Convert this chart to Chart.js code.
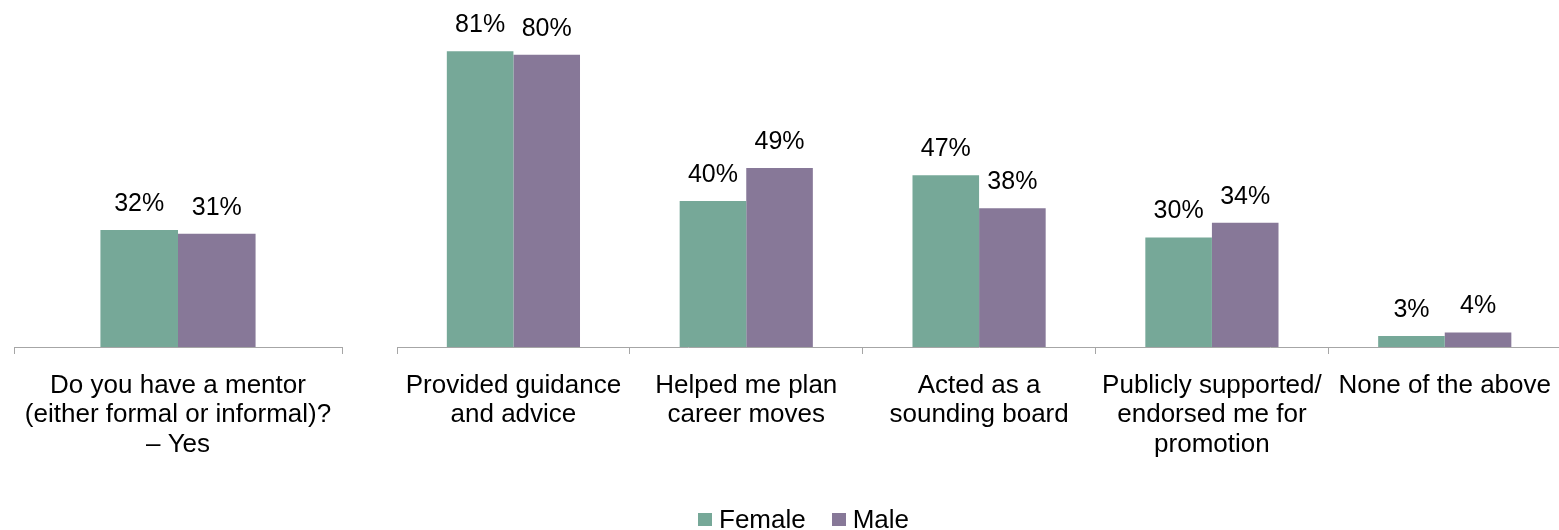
<!DOCTYPE html>
<html>
<head>
<meta charset="utf-8">
<script src="https://cdn.jsdelivr.net/npm/chart.js@4.4.1/dist/chart.umd.min.js"></script>
<style>
    html, body { margin: 0; padding: 0; background: #fff; }
    body { width: 1559px; height: 530px; position: relative; overflow: hidden; font-family: "Liberation Sans", Arial, sans-serif; }
    #mentorChart { position: absolute; left: 0; top: 0; }
    #roleChart { position: absolute; left: 380px; top: 0; }
    #legend { position: absolute; left: 698px; top: 504px; display: flex; align-items: center; font-size: 26px; color: #000; }
    #legend .item { display: flex; align-items: center; margin-right: 26px; }
    #legend .box { width: 14px; height: 13px; margin-right: 7px; }
</style>
</head>
<body>
<canvas id="mentorChart" width="390" height="530"></canvas>
<canvas id="roleChart" width="1188" height="530"></canvas>
<div id="legend"></div>

<script>
// 시리즈 정보
const seriesNames = ['Female', 'Male'];
const seriesColors = ['#76a898', '#877898'];

// 왼쪽: 멘토 유무
const mentorLabels = [['Do you have a mentor', '(either formal or informal)?', '\u2013 Yes']];
const mentorFemale = [32];
const mentorMale = [31];

// 오른쪽: 멘토의 역할
const roleLabels = [
    ['Provided guidance', 'and advice'],
    ['Helped me plan', 'career moves'],
    ['Acted as a', 'sounding board'],
    ['Publicly supported/', 'endorsed me for', 'promotion'],
    ['None of the above']
];
const roleFemale = [81, 40, 47, 30, 3];
const roleMale = [80, 49, 38, 34, 4];

const yMax = 95;
const axisGray = '#a6a6a6';

// 막대 위에 % 값 표시
const valueLabelPlugin = {
    id: 'valueLabels',
    afterDatasetsDraw(chart) {
        const ctx = chart.ctx;
        ctx.save();
        ctx.font = '25px "Liberation Sans", Arial, sans-serif';
        ctx.fillStyle = '#000';
        ctx.textAlign = 'center';
        ctx.textBaseline = 'alphabetic';
        chart.data.datasets.forEach((ds, i) => {
            const meta = chart.getDatasetMeta(i);
            meta.data.forEach((bar, j) => {
                ctx.fillText(ds.data[j] + '%', bar.x, bar.y - 19);
            });
        });
        ctx.restore();
    }
};

function buildChart(canvasId, labels, female, male, barFraction, padding) {
    const ctx = document.getElementById(canvasId).getContext('2d');
    return new Chart(ctx, {
        type: 'bar',
        data: {
            labels,
            datasets: [
                { label: seriesNames[0], data: female, backgroundColor: seriesColors[0] },
                { label: seriesNames[1], data: male, backgroundColor: seriesColors[1] }
            ]
        },
        options: {
            responsive: false,
            animation: false,
            devicePixelRatio: 1,
            layout: { padding },
            categoryPercentage: barFraction,
            barPercentage: 1,
            plugins: {
                legend: { display: false },
                tooltip: { enabled: false }
            },
            scales: {
                x: {
                    grid: {
                        offset: true,
                        drawOnChartArea: false,
                        tickLength: 7,
                        color: axisGray
                    },
                    border: { color: axisGray, width: 1 },
                    ticks: {
                        color: '#000',
                        padding: 17,
                        maxRotation: 0,
                        autoSkip: false,
                        font: { family: '"Liberation Sans", Arial, sans-serif', size: 26, lineHeight: '29.5px' }
                    },
                    afterFit: (scale) => { scale.height = 183; }
                },
                y: {
                    display: false,
                    min: 0,
                    max: yMax
                }
            }
        },
        plugins: [valueLabelPlugin]
    });
}

buildChart('mentorChart', mentorLabels, mentorFemale, mentorMale, 0.473, { left: 14, right: 48, top: 0, bottom: 0 });
buildChart('roleChart', roleLabels, roleFemale, roleMale, 0.572, { left: 17, right: 0, top: 0, bottom: 0 });

// 범례
const legendEl = document.getElementById('legend');
seriesNames.forEach((name, i) => {
    const item = document.createElement('div');
    item.className = 'item';
    const box = document.createElement('span');
    box.className = 'box';
    box.style.background = seriesColors[i];
    const text = document.createElement('span');
    text.textContent = name;
    item.appendChild(box);
    item.appendChild(text);
    legendEl.appendChild(item);
});
</script>
</body>
</html>
